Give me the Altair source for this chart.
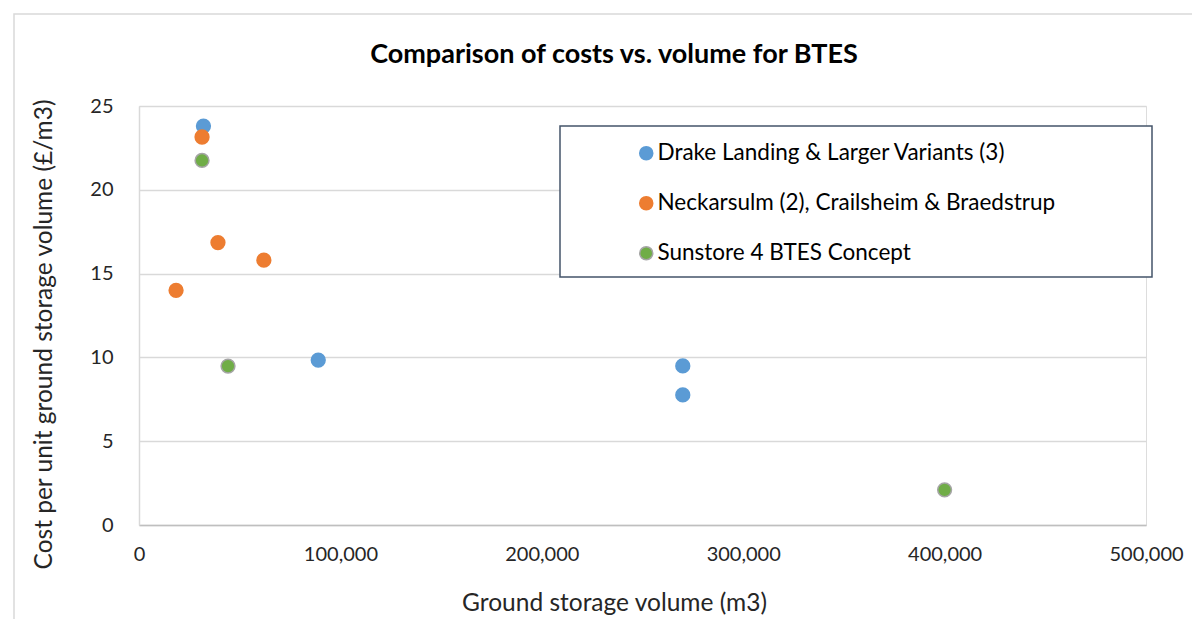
import altair as alt
import pandas as pd

series_names = [
    "Drake Landing & Larger Variants (3)",
    "Neckarsulm (2), Crailsheim & Braedstrup",
    "Sunstore 4 BTES Concept",
]
drake_x = [32000, 89000, 270000, 270000]
drake_y = [23.8, 9.84, 9.49, 7.76]
neck_x = [31300, 18400, 39200, 62000]
neck_y = [23.15, 14.0, 16.85, 15.8]
sun_x = [31300, 44200, 400000]
sun_y = [21.75, 9.48, 2.1]
fill_colors = ["#5B9BD5", "#ED7D31", "#70AD47"]
stroke_colors = ["#5B9BD5", "#ED7D31", "#A5A5A5"]
x_ticks = [0, 100000, 200000, 300000, 400000, 500000]
y_ticks = [0, 5, 10, 15, 20, 25]
title_text = "Comparison of costs vs. volume for BTES"

rows = []
for name, xs, ys in zip(series_names, [drake_x, neck_x, sun_x], [drake_y, neck_y, sun_y]):
    for xv, yv in zip(xs, ys):
        rows.append({"series": name, "volume": xv, "cost": yv})
df = pd.DataFrame(rows)

FONT = "Lato"
W, H = 1007, 419
TXT = "#262626"

leg = alt.Legend(
    orient="none", legendX=496, legendY=36, title=None,
    labelFontSize=22.5, labelFont=FONT, labelColor="#000000",
    rowPadding=27, symbolSize=170, symbolStrokeWidth=1.5, labelOffset=0,
    padding=0, labelLimit=700,
)

points = alt.Chart(df).mark_point(filled=True, size=190, opacity=1, strokeWidth=1.5).encode(
    x=alt.X("volume:Q", scale=alt.Scale(domain=[0, 500000], nice=False),
            axis=alt.Axis(values=x_ticks, format=",.0f", title="Ground storage volume (m3)",
                          grid=False, ticks=False, domainColor="#BFBFBF", domainWidth=1.5,
                          labelFontSize=20, labelFont=FONT, labelColor=TXT, labelPadding=19,
                          titleFontSize=24.5, titleFont=FONT, titleFontWeight="normal",
                          titleColor=TXT, titleX=475, titleY=66, titleAlign="center",
                          titleBaseline="top", labelFlush=False)),
    y=alt.Y("cost:Q", scale=alt.Scale(domain=[0, 25], nice=False),
            axis=alt.Axis(values=y_ticks, format="d",
                          title="Cost per unit ground storage volume (£/m3)",
                          grid=True, gridColor="#D9D9D9", gridWidth=1.5, ticks=False,
                          domainColor="#D9D9D9", domainWidth=1.5,
                          labelFontSize=20, labelFont=FONT, labelColor=TXT, labelPadding=26,
                          titleFontSize=24.5, titleFont=FONT, titleFontWeight="normal",
                          titleColor=TXT, titleX=-95, titleY=228, titleAngle=-90,
                          titleAlign="center", titleBaseline="middle")),
    fill=alt.Fill("series:N", scale=alt.Scale(domain=series_names, range=fill_colors), legend=leg),
    stroke=alt.Stroke("series:N", scale=alt.Scale(domain=series_names, range=stroke_colors), legend=leg),
)

frame_data = pd.DataFrame({"k": [0]})
outer = alt.Chart(frame_data).mark_rect(fillOpacity=0, stroke="#D9D9D9", strokeWidth=1.5).encode(
    x=alt.value(-125), x2=alt.value(1075), y=alt.value(-92), y2=alt.value(540)
)
legend_box = alt.Chart(frame_data).mark_rect(fill="white", stroke="#44546A", strokeWidth=1.5).encode(
    x=alt.value(421), x2=alt.value(1013), y=alt.value(20), y2=alt.value(171)
)
title = alt.Chart(frame_data).mark_text(
    text=title_text, font=FONT, fontSize=27, fontWeight="bold", color="#000000",
    align="center", baseline="middle"
).encode(x=alt.value(475), y=alt.value(-51))

chart = alt.layer(outer, legend_box, title, points).properties(
    width=W, height=H,
    autosize=alt.AutoSizeParams(type="none"),
    padding={"left": 131, "top": 98, "right": 46, "bottom": 94},
).configure_view(stroke=None).configure(background="white")

chart.save("out.html", embed_options={"renderer": "svg", "actions": False})
